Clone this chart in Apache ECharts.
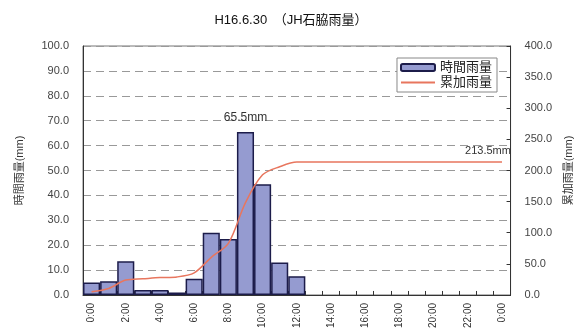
<!DOCTYPE html>
<html>
<head>
<meta charset="utf-8">
<script src="https://cdn.jsdelivr.net/npm/echarts@6/dist/echarts.min.js"></script>
<style>html,body{margin:0;padding:0;background:#fff;}#c{width:582px;height:331px;}</style>
</head>
<body>
<div id="c"></div>
<script>
var titleText = 'H16.6.30　（JH石脇雨量）';
var categories = ['0:00','1:00','2:00','3:00','4:00','5:00','6:00','7:00','8:00','9:00','10:00','11:00','12:00','13:00','14:00','15:00','16:00','17:00','18:00','19:00','20:00','21:00','22:00','23:00','0:00'];
var hourlyRain = [5.0,5.5,13.5,2.0,2.0,1.0,6.5,25.0,22.5,65.5,44.5,13.0,7.5,null,null,null,null,null,null,null,null,null,null,null,null];
var cumulativeRain = [5.0,10.5,24.0,26.0,28.0,29.0,35.5,60.5,83.0,148.5,193.0,206.0,213.5,213.5,213.5,213.5,213.5,213.5,213.5,213.5,213.5,213.5,213.5,213.5,213.5];
var leftTicks = [0,10,20,30,40,50,60,70,80,90,100];
var rightTicks = [0,50,100,150,200,250,300,350,400];
var peakIndex = 9, peakLabel = '65.5mm';
var totalIndex = 24, totalLabel = '213.5mm';

var font = '"Liberation Sans","Noto Sans CJK JP",sans-serif';
var barData = hourlyRain.map(function(v,i){
  if (i === peakIndex) return {value:v,label:{show:true,position:'top',distance:8,formatter:peakLabel,color:'#333',fontSize:12,fontFamily:font}};
  return v;
});
var chart = echarts.init(document.getElementById('c'));
chart.setOption({
  animation:false,
  backgroundColor:'#fff',
  title:{text:titleText,left:'center',top:9,textStyle:{fontSize:13,fontWeight:'normal',color:'#111',fontFamily:font}},
  grid:{left:83,right:70,top:46,bottom:36,show:true,borderColor:'#777',borderWidth:1},
  legend:{
    orient:'vertical',right:85,top:58,backgroundColor:'#fff',borderColor:'#888',borderWidth:1,
    padding:[3,5,3,3],itemGap:2,itemWidth:34,itemHeight:7,
    textStyle:{fontSize:13,lineHeight:13,color:'#222',fontFamily:font},
    data:[{name:'時間雨量',icon:'roundRect'},{name:'累加雨量',itemStyle:{opacity:0}}]
  },
  xAxis:{
    type:'category',data:categories,boundaryGap:true,
    axisLine:{lineStyle:{color:'#333',width:1}},
    axisTick:{show:true,inside:true,length:4,interval:0,lineStyle:{color:'#333'}},
    axisLabel:{interval:1,rotate:90,fontSize:10,color:'#333',margin:8,fontFamily:font},
    splitLine:{show:false}
  },
  yAxis:[{
    type:'value',min:leftTicks[0],max:leftTicks[leftTicks.length-1],interval:10,position:'left',
    name:'時間雨量(mm)',nameLocation:'middle',nameRotate:90,nameGap:58,
    nameTextStyle:{fontSize:11,color:'#333',fontFamily:font},
    axisLine:{show:true,lineStyle:{color:'#333'}},
    axisTick:{show:false},
    axisLabel:{fontSize:11,color:'#444',margin:14,fontFamily:font,formatter:function(v){return v.toFixed(1);}},
    splitLine:{show:true,lineStyle:{color:'#999',type:[8,5],width:1}}
  },{
    type:'value',min:rightTicks[0],max:rightTicks[rightTicks.length-1],interval:50,position:'right',
    name:'累加雨量(mm)',nameLocation:'middle',nameRotate:90,nameGap:50,
    nameTextStyle:{fontSize:11,color:'#333',fontFamily:font},
    axisLine:{show:true,lineStyle:{color:'#333'}},
    axisTick:{show:true,inside:true,length:4,lineStyle:{color:'#333'}},
    axisLabel:{fontSize:11,color:'#444',margin:14,fontFamily:font,formatter:function(v){return v.toFixed(1);}},
    splitLine:{show:false}
  }],
  series:[{
    name:'時間雨量',type:'bar',yAxisIndex:0,data:barData,barCategoryGap:'0%',
    itemStyle:{color:'#959BD0',borderColor:'#1c1c4a',borderWidth:1.5},
    z:2
  },{
    name:'累加雨量',type:'line',yAxisIndex:1,data:cumulativeRain,smooth:0.3,symbol:'none',
    lineStyle:{color:'#E8765E',width:1.5},itemStyle:{color:'#E8765E'},
    markPoint:{
      symbol:'circle',symbolSize:0,silent:true,
      label:{show:true,position:'top',distance:6,offset:[-14,0],color:'#333',fontSize:11,fontFamily:font,formatter:totalLabel},
      data:[{coord:[totalIndex,cumulativeRain[totalIndex]]}]
    },
    z:3
  }]
});
</script>
</body>
</html>
